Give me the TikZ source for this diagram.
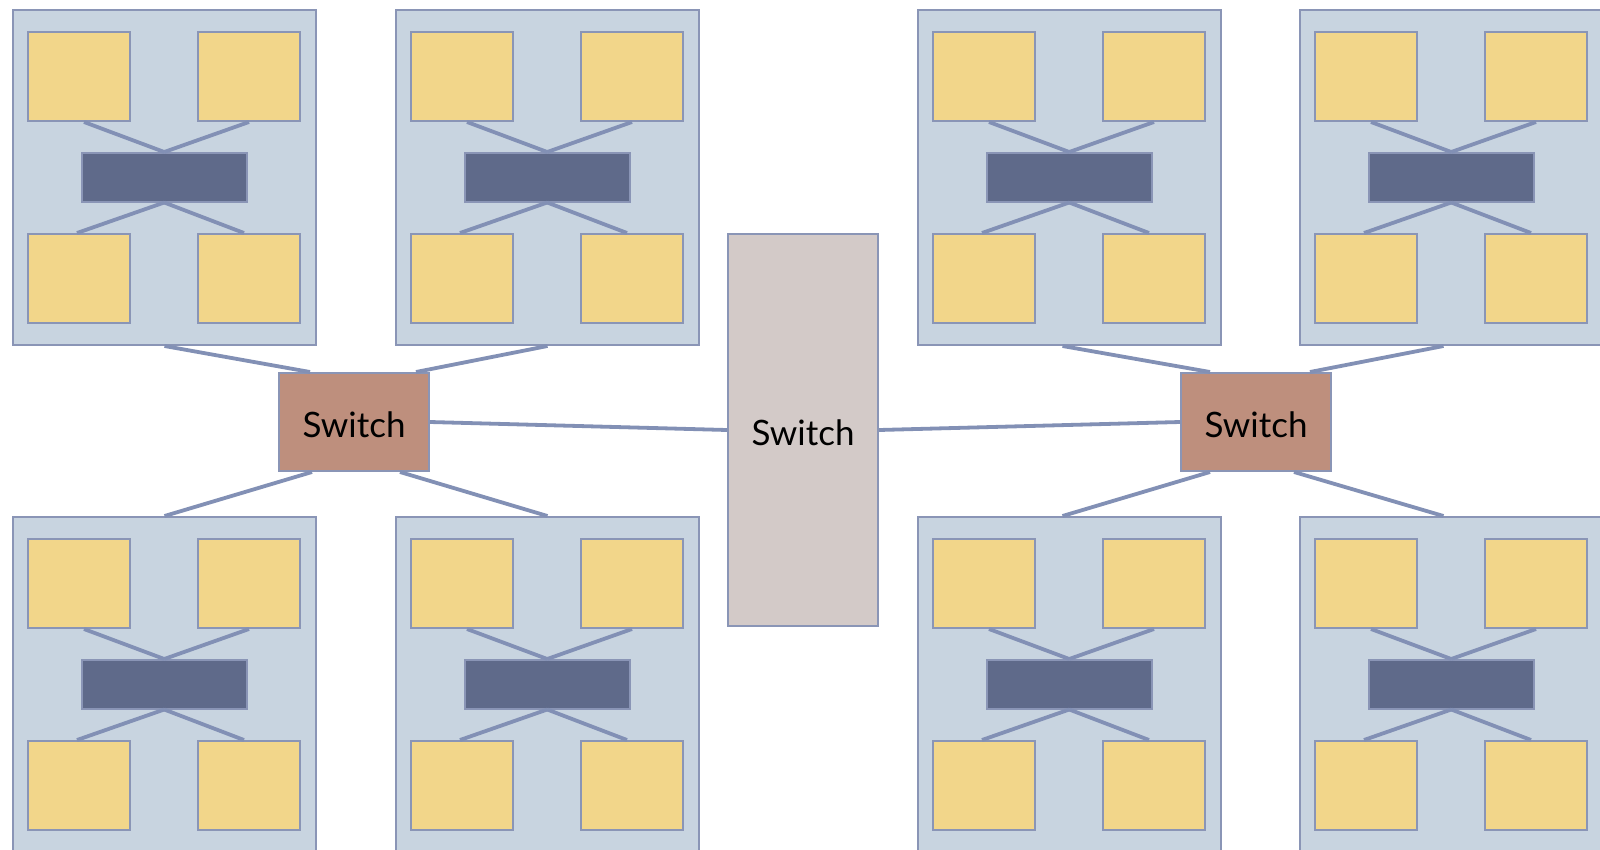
\documentclass[tikz,border=0pt]{standalone}
\usepackage{fontspec}
\setmainfont{Lato}
\usetikzlibrary{calc}
\definecolor{boxfill}{HTML}{C8D4E0}
\definecolor{edgec}{HTML}{8A95B6}
\definecolor{corefill}{HTML}{F2D68A}
\definecolor{barfill}{HTML}{5F6A8A}
\definecolor{swfill}{HTML}{BE8F7D}
\definecolor{ctrfill}{HTML}{D3CAC8}
\definecolor{linec}{HTML}{8290B5}
\newcommand\swlabel{\raisebox{-3pt}[\height][\depth]{Switch}}
\tikzset{
 cluster/.style={draw=edgec, line width=2pt, fill=boxfill, minimum width=303pt, minimum height=335pt, inner sep=0pt, anchor=north west},
 core/.style={draw=edgec, line width=2pt, fill=corefill, minimum width=102pt, minimum height=89pt, inner sep=0pt, anchor=north west},
 bar/.style={draw=edgec, line width=1.5pt, fill=barfill, minimum width=165pt, minimum height=49pt, inner sep=0pt, anchor=north west},
 switchbox/.style={draw=edgec, line width=2pt, minimum width=150pt, minimum height=98pt, inner sep=0pt, font=\fontsize{35}{40}\selectfont},
 link/.style={draw=linec, line width=3.8pt},
}
\newcommand\mkcluster[3]{%
 \node[cluster] (#1) at (#2,#3) {};
 \node[core] (#1tl) at (#2+15,#3+22) {};
 \node[core] (#1tr) at (#2+185,#3+22) {};
 \node[core] (#1bl) at (#2+15,#3+224) {};
 \node[core] (#1br) at (#2+185,#3+224) {};
 \node[bar] (#1m) at (#2+69,#3+143) {};
 \draw[link] ($(#1tl.south)+(5,0)$) -- (#1m.north);
 \draw[link] (#1tr.south) -- (#1m.north);
 \draw[link] (#1m.south) -- ($(#1bl.north)+(-2,0)$);
 \draw[link] (#1m.south) -- ($(#1br.north)+(-5,0)$);
}
\begin{document}
\begin{tikzpicture}[x=1pt,y=-1pt]
\useasboundingbox (0,0) rectangle (1600,849);
\clip (0,0) rectangle (1600,849);
\fill[white] (0,0) rectangle (1600,849);
\mkcluster{ca}{12}{9}
\mkcluster{cb}{395}{9}
\mkcluster{cc}{917}{9}
\mkcluster{cd}{1299}{9}
\mkcluster{ce}{12}{516}
\mkcluster{cf}{395}{516}
\mkcluster{cg}{917}{516}
\mkcluster{ch}{1299}{516}
\node[switchbox, fill=swfill] (swL) at (354,422) {\swlabel};
\node[switchbox, fill=swfill] (swR) at (1256,422) {\swlabel};
\node[switchbox, fill=ctrfill, minimum height=392pt] (swC) at (803,430) {\swlabel};
\draw[link] (ca.south) -- ($(swL.north west)+(32,0)$);
\draw[link] (cb.south) -- ($(swL.north east)+(-14,0)$);
\draw[link] ($(swL.south west)+(34,0)$) -- (ce.north);
\draw[link] ($(swL.south east)+(-30,0)$) -- (cf.north);
\draw[link] (swL.east) -- (swC.west);
\draw[link] (swC.east) -- (swR.west);
\draw[link] ($(cc.south)+(-7,0)$) -- ($(swR.north west)+(30,0)$);
\draw[link] ($(cd.south)+(-8,0)$) -- ($(swR.north east)+(-22,0)$);
\draw[link] ($(swR.south west)+(30,0)$) -- ($(cg.north)+(-7,0)$);
\draw[link] ($(swR.south east)+(-38,0)$) -- ($(ch.north)+(-8,0)$);
\end{tikzpicture}
\end{document}
